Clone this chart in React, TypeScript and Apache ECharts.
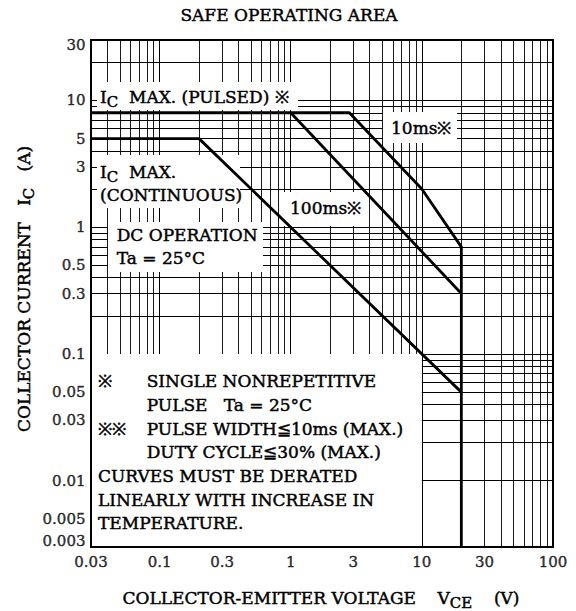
import React, { useEffect, useRef } from "react";
import * as echarts from "echarts";

// ---- axis ticks / labels ----
const xTickLabels = ["0.03", "0.1", "0.3", "1", "3", "10", "30", "100"];
const yTickLabels = ["30", "10", "5", "3", "1", "0.5", "0.3", "0.1", "0.05", "0.03", "0.01", "0.005", "0.003"];

// ---- log grid lines ----
const xGridLines = [0.04, 0.05, 0.06, 0.07, 0.08, 0.09, 0.1, 0.2, 0.3, 0.4, 0.5, 0.6, 0.7, 0.8, 0.9, 1, 2, 3, 4, 5, 6, 7, 8, 9, 10, 20, 30, 40, 50, 60, 70, 80, 90];
const yGridLines = [0.004, 0.005, 0.006, 0.007, 0.008, 0.009, 0.01, 0.02, 0.03, 0.04, 0.05, 0.06, 0.07, 0.08, 0.09, 0.1, 0.2, 0.3, 0.4, 0.5, 0.6, 0.7, 0.8, 0.9, 1, 2, 3, 4, 5, 6, 7, 8, 9, 10, 20];
const decadeLines = [0.1, 1, 10];

// ---- SOA curves (VCE [V], IC [A]) ----
const pulse10ms = [[0.03, 8], [2.8, 8], [10, 2], [20, 0.7], [20, 0.003]];
const pulse100ms = [[1, 8], [20, 0.3]];
const dcOperation = [[0.03, 5], [0.2, 5], [20, 0.05]];

// ---- white note area (data coords) ----
const noteBoxFrom = [0.03, 0.1];
const noteBoxTo = [10, 0.003];

const X_MIN = 0.03, X_MAX = 100, Y_MIN = 0.003, Y_MAX = 30;

const FONT = '"DejaVu Serif", "Liberation Serif", serif';
const STROKE = 0.45;

const rich = {
  n: { fontSize: 17, fontFamily: FONT, fill: "#000", stroke: "#000", lineWidth: STROKE, verticalAlign: "middle", lineHeight: 20 },
  s: { fontSize: 15, fontFamily: FONT, fill: "#000", stroke: "#000", lineWidth: STROKE, verticalAlign: "middle", lineHeight: 18, padding: [10, 0, 0, 0] },
};

function txt(x: number, y: number, text: string, extra: any = {}) {
  return {
    type: "text",
    x,
    y,
    z: 51,
    silent: true,
    style: {
      text,
      font: `17px ${FONT}`,
      fill: "#000",
      stroke: "#000",
      lineWidth: STROKE,
      align: "left",
      verticalAlign: "middle",
      ...extra,
    },
  };
}

function richTxt(x: number, y: number, text: string, extra: any = {}) {
  return {
    type: "text",
    x,
    y,
    z: 51,
    silent: true,
    ...extra,
    style: {
      text,
      rich,
      fill: "#000",
      align: extra.align || "left",
      verticalAlign: "middle",
    },
  };
}

function box(x: number, y: number, w: number, h: number) {
  return { type: "rect", z: 50, silent: true, shape: { x, y, width: w, height: h }, style: { fill: "#fff" } };
}

function buildOption(): any {
  const lastY = yTickLabels.length - 1;
  const tickLabelStyle = {
    show: true,
    color: "#000",
    fontFamily: FONT,
    fontSize: 15,
    textBorderColor: "#000",
    textBorderWidth: STROKE,
  };
  return {
    animation: false,
    backgroundColor: "#fff",
    grid: {
      left: 91,
      right: 23,
      top: 40,
      bottom: 64,
      show: true,
      z: 40,
      borderColor: "#000",
      borderWidth: 2,
      backgroundColor: "transparent",
    },
    xAxis: {
      type: "log",
      logBase: 10,
      min: X_MIN,
      max: X_MAX,
      axisLine: { show: false },
      axisTick: { show: false },
      axisLabel: { show: false },
      splitLine: { show: false },
    },
    yAxis: {
      type: "log",
      logBase: 10,
      min: Y_MIN,
      max: Y_MAX,
      axisLine: { show: false },
      axisTick: { show: false },
      axisLabel: { show: false },
      splitLine: { show: false },
    },
    series: [
      {
        type: "line",
        name: "grid",
        data: [],
        silent: true,
        markLine: {
          silent: true,
          z: 1,
          animation: false,
          symbol: ["none", "none"],
          label: { show: false },
          emphasis: { disabled: true },
          data: [
            ...xGridLines.map((v) => ({
              xAxis: v,
              lineStyle: { color: decadeLines.includes(v) ? "#000" : "#1a1a1a", width: 1, type: "solid" },
            })),
            ...yGridLines.map((v) => ({
              yAxis: v,
              lineStyle: { color: "#000", width: 1.1, type: "solid" },
            })),
          ],
        },
      },
      {
        type: "line",
        name: "noteArea",
        data: [],
        silent: true,
        markArea: {
          silent: true,
          z: 3,
          animation: false,
          label: { show: false },
          itemStyle: { color: "#fff" },
          data: [[{ coord: noteBoxFrom }, { coord: noteBoxTo }]],
        },
      },
      {
        type: "line",
        name: "10ms",
        data: pulse10ms,
        z: 60,
        symbol: "none",
        silent: true,
        lineStyle: { color: "#000", width: 2.8 },
      },
      {
        type: "line",
        name: "100ms",
        data: pulse100ms,
        z: 60,
        symbol: "none",
        silent: true,
        lineStyle: { color: "#000", width: 2.8 },
      },
      {
        type: "line",
        name: "DC",
        data: dcOperation,
        z: 60,
        symbol: "none",
        silent: true,
        lineStyle: { color: "#000", width: 2.8 },
      },
      {
        type: "scatter",
        name: "yTicks",
        z: 60,
        silent: true,
        clip: false,
        symbolSize: 1,
        itemStyle: { color: "rgba(0,0,0,0)" },
        data: yTickLabels.map((t, i) => ({
          value: [X_MIN, Number(t)],
          label: { offset: i === 0 ? [0, 5] : i === lastY ? [0, -6] : [0, 0] },
        })),
        label: {
          ...tickLabelStyle,
          position: "left",
          distance: 5,
          formatter: (p: any) => yTickLabels[p.dataIndex],
        },
      },
      {
        type: "scatter",
        name: "xTicks",
        z: 60,
        silent: true,
        clip: false,
        symbolSize: 1,
        itemStyle: { color: "rgba(0,0,0,0)" },
        data: xTickLabels.map((t) => [Number(t), Y_MIN]),
        label: {
          ...tickLabelStyle,
          position: "bottom",
          distance: 7,
          formatter: (p: any) => xTickLabels[p.dataIndex],
        },
      },
    ],
    graphic: [
      // title
      txt(289, 15, "SAFE OPERATING AREA", { align: "center" }),
      // axis names
      richTxt(321, 598, "{n|COLLECTOR-EMITTER VOLTAGE    V}{s|CE}{n|    (V)}", { align: "center" }),
      richTxt(24, 289, "{n|COLLECTOR CURRENT   I}{s|C}{n|   (A)}", { align: "center", rotation: Math.PI / 2 }),
      // annotation boxes
      box(97, 82, 201, 28),
      richTxt(100, 97, "{n|I}{s|C}{n|  MAX. (PULSED) ※}"),
      box(383, 112, 74, 31),
      txt(391, 128, "10ms※"),
      box(284, 192, 78, 34),
      txt(290, 208, "100ms※"),
      box(97, 155, 143, 53),
      richTxt(100, 172, "{n|I}{s|C}{n|  MAX.}"),
      txt(100, 195, "(CONTINUOUS)"),
      box(108, 222, 155, 50),
      txt(116.7, 235, "DC OPERATION"),
      txt(116.7, 258, "Ta = 25°C"),
      // notes
      txt(98, 381, "※"),
      txt(146.7, 381, "SINGLE NONREPETITIVE"),
      txt(146.7, 404.5, "PULSE   Ta = 25°C"),
      txt(98, 428.5, "※※"),
      txt(146.7, 428.5, "PULSE WIDTH≦10ms (MAX.)"),
      txt(146.7, 452.3, "DUTY CYCLE≦30% (MAX.)"),
      txt(98, 475.8, "CURVES MUST BE DERATED"),
      txt(98, 499.5, "LINEARLY WITH INCREASE IN"),
      txt(98, 523.3, "TEMPERATURE."),
    ],
  };
}

export default function App() {
  const ref = useRef<HTMLDivElement>(null);
  useEffect(() => {
    if (!ref.current) return;
    const chart = echarts.init(ref.current, null, { renderer: "svg" });
    chart.setOption(buildOption());
    return () => chart.dispose();
  }, []);
  return (
    <div
      ref={ref}
      style={{ position: "absolute", left: 0, top: 0, width: 576, height: 611, background: "#fff" }}
    />
  );
}
